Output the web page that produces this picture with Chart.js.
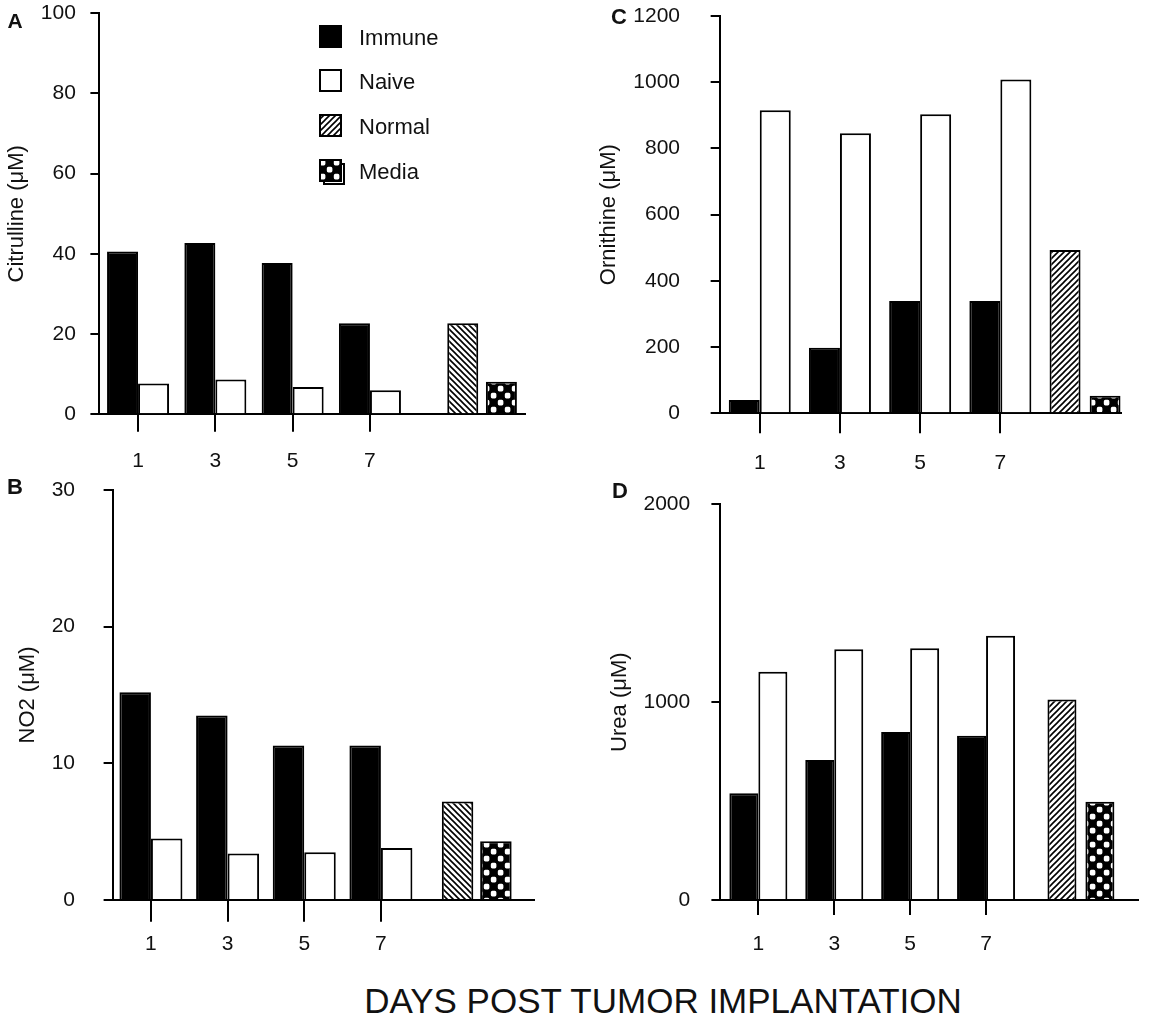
<!DOCTYPE html>
<html>
<head>
<meta charset="utf-8">
<title>Arginine metabolites after tumor implantation</title>
<script src="https://cdn.jsdelivr.net/npm/chart.js@4.4.1/dist/chart.umd.min.js"></script>
<style>
  html, body { margin: 0; padding: 0; background: #fff; overflow: hidden; }
  body { width: 1156px; height: 1022px; position: relative; font-family: "Liberation Sans", Arial, Helvetica, sans-serif; color: #111; }
  .panel { position: absolute; }
  .letter { position: absolute; font-weight: bold; line-height: 1; transform: translate(-50%, -50%); }
  .legend-item { position: absolute; left: 319px; height: 26px; display: flex; align-items: center; font-size: 22px; }
  .legend-item canvas { display: block; margin-right: 14px; }
  #xtitle { position: absolute; left: 663px; top: 1001px; transform: translate(-50%, -50%); font-size: 35px; white-space: nowrap; }
</style>
</head>
<body>
<div id="xtitle">DAYS POST TUMOR IMPLANTATION</div>

<script>
// categories and series
const days = ['1', '3', '5', '7'];
const seriesNames = ['Immune', 'Naive', 'Normal', 'Media'];

// A: citrulline (uM)
const citrullineImmune = [40.6, 42.7, 37.7, 22.7];
const citrullineNaive = [7.7, 8.7, 6.8, 6.0];
const citrullineControls = [22.7, 8.1];   // Normal, Media
const citrullineTicks = [0, 20, 40, 60, 80, 100];

// B: NO2 (uM)
const no2Immune = [15.2, 13.5, 11.3, 11.3];
const no2Naive = [4.5, 3.4, 3.5, 3.8];
const no2Controls = [7.2, 4.3];
const no2Ticks = [0, 10, 20, 30];

// C: ornithine (uM)
const ornithineImmune = [40, 198, 339, 339];
const ornithineNaive = [915, 846, 903, 1008];
const ornithineControls = [493, 53];
const ornithineTicks = [0, 200, 400, 600, 800, 1000, 1200];

// D: urea (uM)
const ureaImmune = [540, 708, 849, 830];
const ureaNaive = [1154, 1267, 1272, 1336];
const ureaControls = [1014, 497];
const ureaTicks = [0, 1000, 2000];

// slot layout on the x axis: days on odd slots, then the two controls
const daySlots = [1, 3, 5, 7];
const controlSlots = [9, 10];

// panel layout (pixels, relative to each panel box)
const panels = [
  { key: 'A', title: 'Citrulline (\u03bcM)', immune: citrullineImmune, naive: citrullineNaive,
    controls: citrullineControls, ticks: citrullineTicks,
    box: [0, 0, 578, 480], axisX: 99.4, top: 13.3, bottom: 414.3, step: 38.65, slots: 12, barW: 31,
    ctrlStack: 'R', hatch: '\\', labelPad: 14.5, titlePad: 3.4, dropTick: 17.4, dayPad: 16.7,
    letter: [15, 20, 21] },
  { key: 'B', title: 'NO2 (\u03bcM)', immune: no2Immune, naive: no2Naive,
    controls: no2Controls, ticks: no2Ticks,
    box: [0, 470, 578, 480], axisX: 112.6, top: 20, bottom: 430, step: 38.33, slots: 12, barW: 31.5,
    ctrlStack: null, hatch: '\\', labelPad: 28.6, titlePad: 14.5, dropTick: 21.7, dayPad: 9.7,
    letter: [15, 487, 22] },
  { key: 'C', title: 'Ornithine (\u03bcM)', immune: ornithineImmune, naive: ornithineNaive,
    controls: ornithineControls, ticks: ornithineTicks,
    box: [578, 0, 578, 480], axisX: 141.65, top: 16, bottom: 413.3, step: 40.1, slots: 11, barW: 31,
    ctrlStack: 'L', hatch: '/', labelPad: 30.6, titlePad: 18.2, dropTick: 20, dayPad: 17.1,
    letter: [619, 17, 22] },
  { key: 'D', title: 'Urea (\u03bcM)', immune: ureaImmune, naive: ureaNaive,
    controls: ureaControls, ticks: ureaTicks,
    box: [578, 470, 578, 480], axisX: 142.4, top: 34.3, bottom: 430, step: 37.95, slots: 12, barW: 29,
    ctrlStack: null, hatch: '/', labelPad: 21.2, titlePad: 29.2, dropTick: 15, dayPad: 16.4,
    letter: [620, 491, 22] }
];

Chart.defaults.font.family = '"Liberation Sans", Arial, Helvetica, sans-serif';
Chart.defaults.color = '#111';

function makeHatch(dir) {
  const t = document.createElement('canvas');
  t.width = t.height = 6;
  const g = t.getContext('2d');
  g.fillStyle = '#fff';
  g.fillRect(0, 0, 6, 6);
  g.strokeStyle = '#000';
  g.lineWidth = 1.6;
  g.beginPath();
  if (dir === '/') {
    g.moveTo(-1, 7); g.lineTo(7, -1);
    g.moveTo(-1, 1); g.lineTo(1, -1);
    g.moveTo(5, 7); g.lineTo(7, 5);
  } else {
    g.moveTo(-1, -1); g.lineTo(7, 7);
    g.moveTo(-1, 5); g.lineTo(1, 7);
    g.moveTo(5, -1); g.lineTo(7, 1);
  }
  g.stroke();
  return g.createPattern(t, 'repeat');
}

function makeChecker() {
  const t = document.createElement('canvas');
  t.width = t.height = 14;
  const g = t.getContext('2d');
  g.fillStyle = '#000';
  g.fillRect(0, 0, 14, 14);
  g.fillStyle = '#fff';
  g.beginPath();
  g.roundRect(0.8, 0.8, 5.6, 5.6, 1.6);
  g.roundRect(7.8, 7.8, 5.6, 5.6, 1.6);
  g.fill();
  return g.createPattern(t, 'repeat');
}

// spread values onto the slot axis, null elsewhere
function slotted(values, slots, n) {
  const arr = new Array(n).fill(null);
  values.forEach((v, i) => { arr[slots[i]] = v; });
  return arr;
}

const checker = makeChecker();

panels.forEach(p => {
  const wrap = document.createElement('div');
  wrap.className = 'panel';
  wrap.style.left = p.box[0] + 'px';
  wrap.style.top = p.box[1] + 'px';
  wrap.style.width = p.box[2] + 'px';
  wrap.style.height = p.box[3] + 'px';
  const canvas = document.createElement('canvas');
  wrap.appendChild(canvas);
  document.body.appendChild(wrap);

  const letter = document.createElement('div');
  letter.className = 'letter';
  letter.textContent = p.key;
  letter.style.left = p.letter[0] + 'px';
  letter.style.top = p.letter[1] + 'px';
  letter.style.fontSize = p.letter[2] + 'px';
  document.body.appendChild(letter);

  const n = p.slots;
  const labels = new Array(n).fill('');
  daySlots.forEach((s, i) => { labels[s] = days[i]; });

  const groupPct = (2 * p.barW) / p.step;
  const singlePct = p.barW / p.step;
  const base = { borderColor: '#000', borderWidth: 2, borderSkipped: 'start', barPercentage: 1 };
  const ctrlOpts = p.ctrlStack
    ? { stack: p.ctrlStack, categoryPercentage: groupPct }
    : { grouped: false, categoryPercentage: singlePct };

  new Chart(canvas, {
    type: 'bar',
    data: {
      labels: labels,
      datasets: [
        { ...base, label: seriesNames[0], data: slotted(p.immune, daySlots, n),
          backgroundColor: '#000', stack: 'L', categoryPercentage: groupPct },
        { ...base, label: seriesNames[1], data: slotted(p.naive, daySlots, n),
          backgroundColor: '#fff', stack: 'R', categoryPercentage: groupPct },
        { ...base, ...ctrlOpts, label: seriesNames[2], data: slotted([p.controls[0]], [controlSlots[0]], n),
          backgroundColor: makeHatch(p.hatch) },
        { ...base, ...ctrlOpts, label: seriesNames[3], data: slotted([p.controls[1]], [controlSlots[1]], n),
          backgroundColor: checker }
      ]
    },
    options: {
      responsive: true,
      maintainAspectRatio: false,
      animation: false,
      events: [],
      layout: {
        padding: { left: 0, top: p.top, bottom: 0, right: p.box[2] - (p.axisX + (n - 1) * p.step) }
      },
      plugins: { legend: { display: false }, tooltip: { enabled: false } },
      scales: {
        x: {
          type: 'category',
          offset: false,
          grid: {
            offset: false,
            drawOnChartArea: false,
            tickLength: p.dropTick,
            lineWidth: 2,
            color: c => (labels[c.index] ? '#000' : 'rgba(0,0,0,0)')
          },
          border: { color: '#000', width: 2 },
          ticks: { autoSkip: false, maxRotation: 0, padding: p.dayPad, font: { size: 21 }, color: '#111' },
          afterFit: s => { s.height = p.box[3] - p.bottom; }
        },
        y: {
          stacked: false,
          min: p.ticks[0],
          max: p.ticks[p.ticks.length - 1],
          afterBuildTicks: s => { s.ticks = p.ticks.map(v => ({ value: v })); },
          grid: { drawOnChartArea: false, tickLength: 9, lineWidth: 2, color: '#000' },
          border: { color: '#000', width: 2 },
          ticks: { padding: p.labelPad, font: { size: 21 }, color: '#111', callback: v => String(v) },
          title: { display: true, text: p.title, font: { size: 22 }, color: '#111',
                   padding: { top: p.titlePad, bottom: 0 } },
          afterFit: s => {
            s.width = p.axisX;
            // label padding should not push the plot area down
            s.paddingTop = 0;
            s.paddingBottom = 0;
          }
        }
      }
    }
  });
});

// legend inside panel A
const legendTops = [26, 70, 115, 160];
const swatchFills = ['#000', '#fff', makeHatch('/'), checker];
seriesNames.forEach((name, i) => {
  const item = document.createElement('div');
  item.className = 'legend-item';
  item.style.top = (legendTops[i] - 1) + 'px';
  const sw = document.createElement('canvas');
  sw.width = 26; sw.height = 26;
  const g = sw.getContext('2d');
  g.lineWidth = 2;
  g.strokeStyle = '#000';
  if (name === 'Media') {
    g.fillStyle = '#fff';
    g.fillRect(5, 5, 20, 20);
    g.strokeRect(5, 5, 20, 20);
  }
  g.fillStyle = swatchFills[i];
  g.fillRect(1, 1, 21, 21);
  g.strokeRect(1, 1, 21, 21);
  item.appendChild(sw);
  const txt = document.createElement('span');
  txt.textContent = name;
  item.appendChild(txt);
  document.body.appendChild(item);
});
</script>
</body>
</html>
